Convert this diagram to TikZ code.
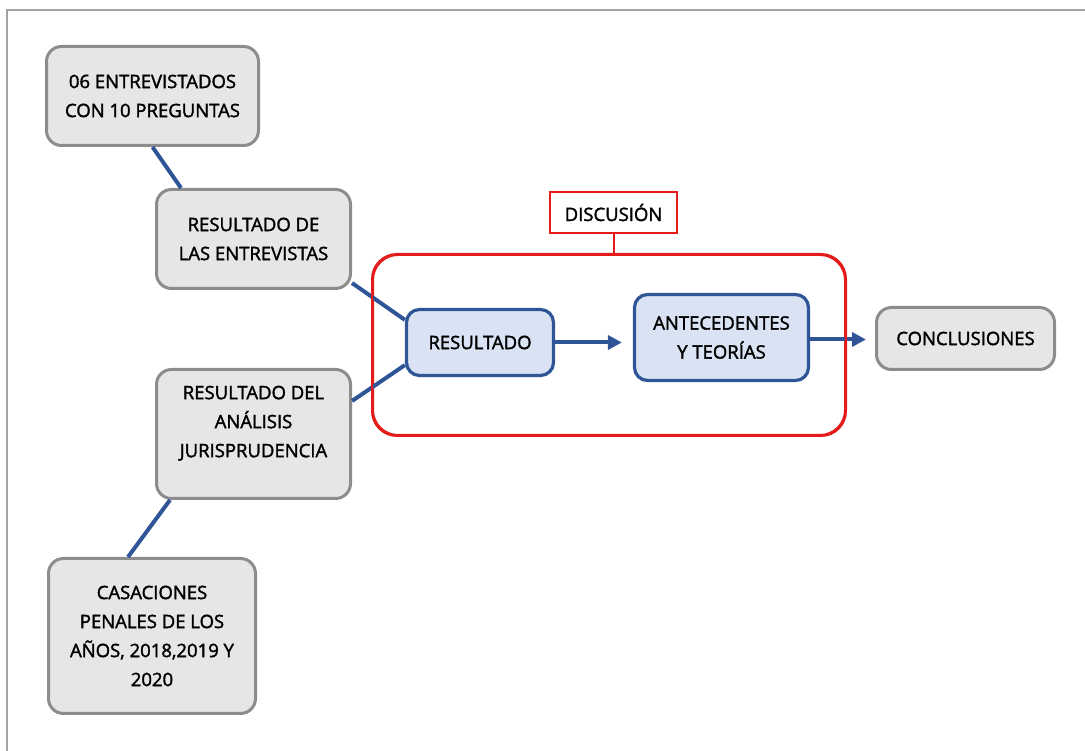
\documentclass[tikz,border=0pt]{standalone}
\usepackage{fontspec}
\setmainfont{Open Sans}[BoldFont={Open Sans}, BoldFeatures={FakeBold=1.8}]
\usepackage{tikz}
\usepackage{xcolor}
\usetikzlibrary{arrows.meta}
\definecolor{boxgrey}{HTML}{E6E6E6}
\definecolor{edgegrey}{HTML}{8C8C8C}
\definecolor{boxblue}{HTML}{DAE3F3}
\definecolor{linkblue}{HTML}{2F5597}
\definecolor{framered}{HTML}{E31B1B}
\tikzset{
    grey-box/.style = {draw=edgegrey, fill=boxgrey, line width=3pt, rectangle, rounded corners=15pt, align=center, inner sep=4pt, font=\fontsize{18.5}{29}\selectfont\bfseries},
    blue-box/.style = {draw=linkblue, fill=boxblue, line width=3.2pt, rectangle, rounded corners=13pt, align=center, inner sep=4pt, font=\fontsize{18.5}{29}\selectfont\bfseries},
    red-frame/.style = {draw=framered, line width=2pt, rectangle, rounded corners=25pt},
    red-title/.style = {draw=framered, fill=white, line width=2pt, rectangle, align=center, font=\fontsize{18.5}{29}\selectfont\bfseries},
    link/.style = {draw=linkblue, line width=4pt},
    link-arrow/.style = {draw=linkblue, line width=4pt, -{Triangle[length=14pt,width=14pt]}},
}
\begin{document}
\begin{tikzpicture}[x=1pt,y=1pt]
\useasboundingbox (0,0) rectangle (1085,751);
\draw[color=edgegrey!80, line width=1.5pt] (7,0) -- (7,741) -- (1085,741);
\node[grey-box, minimum width=212pt, minimum height=99pt] (intv) at (152.5,655) {06 ENTREVISTADOS\\CON 10 PREGUNTAS};
\node[grey-box, minimum width=194pt, minimum height=99pt] (ires) at (253.5,512) {RESULTADO DE\\LAS ENTREVISTAS};
\node[grey-box, minimum width=194pt, minimum height=129pt] (jres) at (253.5,317) {RESULTADO DEL\\ANÁLISIS\\JURISPRUDENCIA\\[-4pt]};
\node[grey-box, minimum width=207pt, minimum height=155pt] (cas) at (152,115) {CASACIONES\\PENALES DE LOS\\AÑOS, 2018,2019 Y\\2020};
\node[blue-box, minimum width=147pt, minimum height=66pt] (res) at (480,408.5) {RESULTADO};
\node[blue-box, minimum width=174pt, minimum height=86pt] (ant) at (721.5,413.5) {ANTECEDENTES\\Y TEORÍAS};
\node[grey-box, minimum width=178pt, minimum height=62pt] (conc) at (965.5,412.5) {CONCLUSIONES};
\node[red-frame, minimum width=472pt, minimum height=180pt] (disc-frame) at (609,406) {};
\node[red-title, minimum width=127pt, minimum height=41pt] (disc) at (613.5,538.5) {DISCUSIÓN};
\draw[link] (intv.south) -- ([xshift=26pt]ires.north west);
\draw[link] ([yshift=7pt]ires.south east) -- ([yshift=-12pt]res.north west);
\draw[link] ([yshift=-33pt]jres.north east) -- ([yshift=12pt]res.south west);
\draw[link] ([xshift=15pt]jres.south west) -- ([xshift=81pt]cas.north west);
\draw[link-arrow, shorten >=11pt] (res.east) -- (res.east -| ant.west);
\draw[link-arrow, shorten >=9pt] ([yshift=-2pt]ant.east) -- ([yshift=-2pt]ant.east -| conc.west);
\draw[red-frame] (disc-frame.south west) rectangle (disc-frame.north east);
\draw[draw=framered, line width=2pt] (disc.south) -- (disc.south |- disc-frame.north);
\end{tikzpicture}
\end{document}
